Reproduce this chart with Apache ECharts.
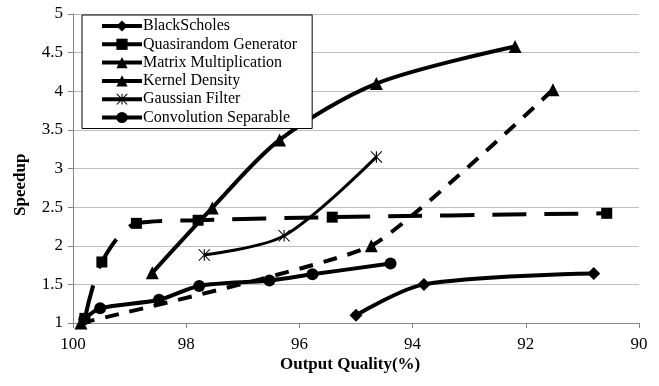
<!DOCTYPE html>
<html>
<head>
<meta charset="utf-8">
<script src="https://cdn.jsdelivr.net/npm/echarts@6/dist/echarts.min.js"></script>
<style>
html,body{margin:0;padding:0;background:#fff;}
#chart{width:659px;height:386px;}
</style>
</head>
<body>
<div id="chart"></div>
<script>
// ---- data ----
var seriesNames = ['BlackScholes', 'Quasirandom Generator', 'Matrix Multiplication', 'Kernel Density', 'Gaussian Filter', 'Convolution Separable'];
var blackScholesX = [95.0, 93.8, 90.8];
var blackScholesY = [1.1, 1.5, 1.64];
var quasirandomX = [99.79, 99.49, 98.88, 97.79, 95.42, 90.57];
var quasirandomY = [1.06, 1.79, 2.29, 2.33, 2.37, 2.42];
var matrixX = [98.6, 97.54, 96.35, 94.64, 92.19];
var matrixY = [1.65, 2.49, 3.37, 4.1, 4.58];
var kernelX = [99.86, 94.73, 91.52];
var kernelY = [1.0, 2.0, 4.02];
var gaussianX = [97.68, 96.27, 94.64];
var gaussianY = [1.88, 2.13, 3.15];
var convolutionX = [99.8, 99.52, 98.48, 97.77, 96.53, 95.77, 94.39];
var convolutionY = [1.05, 1.19, 1.3, 1.48, 1.55, 1.63, 1.77];
var xTicks = {min: 90, max: 100, interval: 2};
var yTicks = {min: 1, max: 5, interval: 0.5};

function pairs(xs, ys) { return xs.map(function (x, i) { return [x, ys[i]]; }); }

var FONT = "'Liberation Serif', 'Times New Roman', serif";
var asterisk = 'path://M-0.4,-5 L0.4,-5 L0.4,5 L-0.4,5 Z M-4.31,-4.75 L-3.69,-5.25 L4.31,4.75 L3.69,5.25 Z M4.31,-4.75 L-3.69,5.25 L-4.31,4.75 L3.69,-5.25 Z';

function mk(name, xs, ys, symbol, size, width, dash, smooth) {
  return {
    name: name,
    type: 'line',
    data: pairs(xs, ys),
    smooth: smooth == null ? 0.3 : smooth,
    symbol: symbol,
    symbolSize: size,
    showAllSymbol: true,
    lineStyle: {color: '#000', width: width, type: dash || 'solid', cap: 'butt'},
    itemStyle: {color: '#000', borderWidth: 0},
    emphasis: {disabled: true},
    animation: false
  };
}

var chart = echarts.init(document.getElementById('chart'), null, {renderer: 'canvas'});
chart.setOption({
  animation: false,
  backgroundColor: '#fff',
  grid: {left: 73, right: 20, top: 14, bottom: 63},
  legend: {
    left: 82, top: 15,
    orient: 'vertical',
    data: seriesNames,
    itemWidth: 40, itemHeight: 14, itemGap: 2.3,
    padding: [3, 15, 3, 18],
    borderColor: '#000', borderWidth: 1,
    backgroundColor: '#fff',
    lineStyle: {width: 4, type: 'solid'},
    textStyle: {fontFamily: FONT, fontSize: 16, lineHeight: 16, color: '#000', padding: [0, 0, 0, -4]},
    selectedMode: false
  },
  xAxis: {
    type: 'value', inverse: true,
    min: xTicks.min, max: xTicks.max, interval: xTicks.interval,
    axisLine: {lineStyle: {color: '#868686', width: 1}},
    axisTick: {show: true, length: 5, lineStyle: {color: '#868686'}},
    splitLine: {show: false},
    axisLabel: {fontFamily: FONT, fontSize: 17, color: '#000', margin: 13}
  },
  yAxis: {
    type: 'value',
    min: yTicks.min, max: yTicks.max, interval: yTicks.interval,
    axisLine: {show: true, lineStyle: {color: '#868686', width: 1}},
    axisTick: {show: true, length: 5, lineStyle: {color: '#868686'}},
    splitLine: {show: true, lineStyle: {color: '#bfbfbf', width: 1}},
    axisLabel: {fontFamily: FONT, fontSize: 17, color: '#000', margin: 10}
  },
  graphic: [
    {type: 'text', left: 280, top: 356, style: {text: 'Output Quality(%)', font: 'bold 17px ' + FONT, fill: '#000'}},
    {type: 'text', x: 12, y: 216, rotation: Math.PI / 2, style: {text: 'Speedup', font: 'bold 17px ' + FONT, fill: '#000'}}
  ],
  series: [
    mk(seriesNames[0], blackScholesX, blackScholesY, 'diamond', 13, 4),
    mk(seriesNames[1], quasirandomX, quasirandomY, 'rect', 11, 4, [34, 18]),
    mk(seriesNames[2], matrixX, matrixY, 'triangle', 13, 4),
    mk(seriesNames[3], kernelX, kernelY, 'triangle', 13, 4, [14, 11], 0.15),
    mk(seriesNames[4], gaussianX, gaussianY, asterisk, 12, 3),
    mk(seriesNames[5], convolutionX, convolutionY, 'circle', 12, 4)
  ]
});
</script>
</body>
</html>
